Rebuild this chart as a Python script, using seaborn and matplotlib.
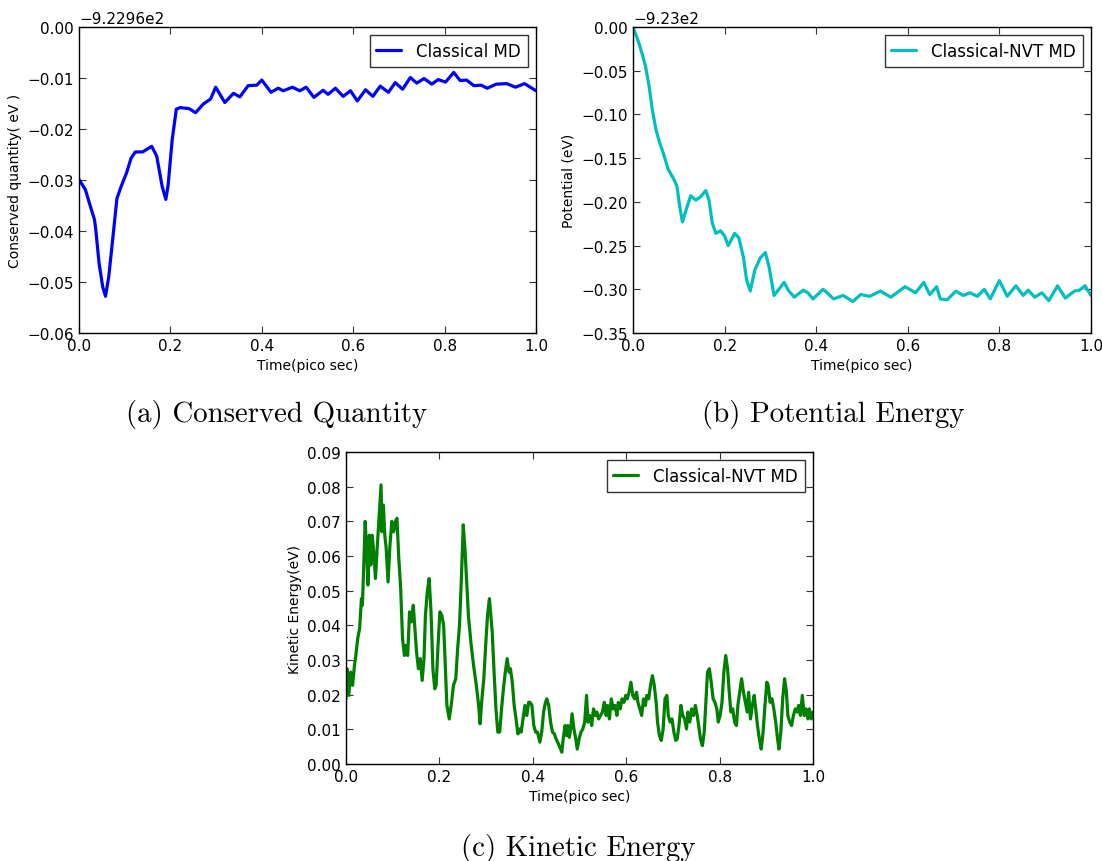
import numpy as np
import pandas as pd
import seaborn as sns
import matplotlib.pyplot as plt
from matplotlib.ticker import MultipleLocator, FormatStrFormatter

# offsets (eV) that the y values are measured from
cons_offset = -922.96
pot_offset = -923.0

# (a) conserved quantity, relative to cons_offset
t_cons = [0.000, 0.014, 0.026, 0.034, 0.037, 0.044, 0.052, 0.058, 0.065, 0.075,
          0.083, 0.092, 0.104, 0.114, 0.123, 0.139, 0.159, 0.170, 0.182, 0.190,
          0.195, 0.204, 0.213, 0.221, 0.241, 0.255, 0.272, 0.288, 0.299, 0.319,
          0.338, 0.352, 0.370, 0.389, 0.400, 0.420, 0.436, 0.447, 0.467, 0.483,
          0.497, 0.514, 0.534, 0.545, 0.561, 0.578, 0.594, 0.609, 0.627, 0.643,
          0.659, 0.677, 0.692, 0.708, 0.725, 0.739, 0.755, 0.772, 0.786, 0.802,
          0.820, 0.834, 0.848, 0.864, 0.880, 0.893, 0.913, 0.936, 0.955, 0.975,
          0.991, 1.000]
cons = [-0.0299, -0.0319, -0.0355, -0.0378, -0.0400, -0.0464, -0.0510, -0.0528, -0.0490, -0.0405,
        -0.0336, -0.0313, -0.0286, -0.0257, -0.0245, -0.0245, -0.0234, -0.0253, -0.0313, -0.0338,
        -0.0310, -0.0220, -0.0161, -0.0158, -0.0160, -0.0168, -0.0151, -0.0141, -0.0118, -0.0148,
        -0.0130, -0.0137, -0.0115, -0.0114, -0.0104, -0.0128, -0.0120, -0.0125, -0.0118, -0.0125,
        -0.0118, -0.0138, -0.0124, -0.0132, -0.0120, -0.0136, -0.0125, -0.0145, -0.0123, -0.0136,
        -0.0116, -0.0128, -0.0109, -0.0122, -0.0099, -0.0110, -0.0101, -0.0112, -0.0103, -0.0108,
        -0.0089, -0.0105, -0.0104, -0.0115, -0.0114, -0.0120, -0.0112, -0.0111, -0.0118, -0.0111,
        -0.0120, -0.0125]

# (b) potential energy, relative to pot_offset
t_pot = [0.000, 0.012, 0.019, 0.027, 0.035, 0.042, 0.050, 0.058, 0.066, 0.077,
         0.089, 0.096, 0.102, 0.108, 0.116, 0.126, 0.137, 0.148, 0.159, 0.166,
         0.173, 0.181, 0.191, 0.200, 0.208, 0.222, 0.231, 0.241, 0.248, 0.256,
         0.266, 0.278, 0.289, 0.297, 0.308, 0.320, 0.330, 0.339, 0.352, 0.372,
         0.382, 0.393, 0.415, 0.424, 0.438, 0.459, 0.480, 0.497, 0.517, 0.540,
         0.563, 0.594, 0.617, 0.635, 0.648, 0.663, 0.671, 0.686, 0.705, 0.721,
         0.736, 0.752, 0.767, 0.780, 0.800, 0.817, 0.836, 0.852, 0.863, 0.877,
         0.893, 0.908, 0.927, 0.944, 0.964, 0.975, 0.987, 1.000]
pot = [0.000, -0.017, -0.029, -0.044, -0.067, -0.094, -0.117, -0.132, -0.144, -0.163,
       -0.174, -0.182, -0.205, -0.223, -0.209, -0.193, -0.198, -0.194, -0.187, -0.198,
       -0.224, -0.236, -0.233, -0.239, -0.250, -0.236, -0.241, -0.263, -0.289, -0.302,
       -0.278, -0.264, -0.258, -0.274, -0.307, -0.299, -0.292, -0.301, -0.309, -0.301,
       -0.304, -0.311, -0.300, -0.304, -0.311, -0.307, -0.314, -0.306, -0.308, -0.302,
       -0.309, -0.297, -0.304, -0.292, -0.306, -0.297, -0.311, -0.312, -0.302, -0.307,
       -0.304, -0.308, -0.300, -0.311, -0.290, -0.308, -0.296, -0.307, -0.301, -0.309,
       -0.304, -0.313, -0.296, -0.310, -0.302, -0.301, -0.296, -0.307]

# (c) kinetic energy
t_ke = [0.000, 0.002, 0.006, 0.010, 0.014, 0.018, 0.021, 0.025, 0.029, 0.033,
        0.035, 0.038, 0.041, 0.044, 0.047, 0.050, 0.053, 0.056, 0.060, 0.063,
        0.067, 0.071, 0.075, 0.077, 0.080, 0.083, 0.086, 0.090, 0.094, 0.098,
        0.102, 0.106, 0.109, 0.113, 0.117, 0.121, 0.125, 0.128, 0.132, 0.136,
        0.140, 0.144, 0.148, 0.151, 0.155, 0.159, 0.163, 0.167, 0.170, 0.174,
        0.178, 0.182, 0.186, 0.190, 0.193, 0.197, 0.201, 0.205, 0.209, 0.213,
        0.216, 0.221, 0.226, 0.230, 0.235, 0.239, 0.243, 0.247, 0.251, 0.255,
        0.258, 0.262, 0.268, 0.274, 0.279, 0.284, 0.287, 0.291, 0.295, 0.299,
        0.303, 0.307, 0.310, 0.313, 0.317, 0.321, 0.325, 0.329, 0.333, 0.337,
        0.341, 0.345, 0.349, 0.352, 0.356, 0.360, 0.364, 0.368, 0.372, 0.375,
        0.379, 0.383, 0.387, 0.391, 0.394, 0.398, 0.402, 0.406, 0.410, 0.415,
        0.419, 0.423, 0.427, 0.430, 0.434, 0.438, 0.442, 0.446, 0.450, 0.453,
        0.458, 0.462, 0.465, 0.469, 0.472, 0.475, 0.478, 0.481, 0.484, 0.488,
        0.492, 0.495, 0.499, 0.503, 0.507, 0.511, 0.515, 0.518, 0.522, 0.526,
        0.530, 0.534, 0.537, 0.541, 0.545, 0.549, 0.553, 0.557, 0.560, 0.564,
        0.568, 0.572, 0.576, 0.580, 0.583, 0.587, 0.591, 0.595, 0.599, 0.602,
        0.606, 0.610, 0.614, 0.618, 0.622, 0.625, 0.629, 0.633, 0.637, 0.641,
        0.644, 0.648, 0.652, 0.656, 0.660, 0.664, 0.667, 0.671, 0.675, 0.679,
        0.683, 0.687, 0.690, 0.694, 0.698, 0.702, 0.706, 0.709, 0.713, 0.717,
        0.721, 0.725, 0.729, 0.732, 0.736, 0.740, 0.744, 0.748, 0.752, 0.755,
        0.759, 0.763, 0.767, 0.771, 0.774, 0.778, 0.782, 0.786, 0.790, 0.794,
        0.797, 0.801, 0.805, 0.809, 0.813, 0.817, 0.820, 0.824, 0.828, 0.832,
        0.836, 0.839, 0.843, 0.847, 0.851, 0.855, 0.859, 0.862, 0.866, 0.870,
        0.874, 0.878, 0.881, 0.885, 0.889, 0.893, 0.897, 0.901, 0.904, 0.908,
        0.912, 0.916, 0.920, 0.924, 0.927, 0.931, 0.935, 0.939, 0.943, 0.946,
        0.950, 0.954, 0.958, 0.962, 0.966, 0.969, 0.973, 0.977, 0.981, 0.985,
        0.989, 0.992, 0.996, 1.000]
ke = [0.0188, 0.0275, 0.0198, 0.0265, 0.0227, 0.0284, 0.0313, 0.0362, 0.0390, 0.0477,
      0.0458, 0.0574, 0.0700, 0.0622, 0.0516, 0.0660, 0.0574, 0.0660, 0.0600, 0.0535,
      0.0630, 0.0718, 0.0805, 0.0670, 0.0747, 0.0660, 0.0622, 0.0525, 0.0630, 0.0700,
      0.0670, 0.0700, 0.0709, 0.0593, 0.0506, 0.0362, 0.0313, 0.0342, 0.0313, 0.0439,
      0.0410, 0.0458, 0.0381, 0.0323, 0.0275, 0.0304, 0.0241, 0.0304, 0.0429, 0.0497,
      0.0535, 0.0439, 0.0275, 0.0217, 0.0227, 0.0342, 0.0439, 0.0429, 0.0400, 0.0265,
      0.0169, 0.0130, 0.0178, 0.0227, 0.0246, 0.0333, 0.0400, 0.0535, 0.0690, 0.0612,
      0.0535, 0.0429, 0.0342, 0.0275, 0.0227, 0.0169, 0.0116, 0.0188, 0.0246, 0.0342,
      0.0429, 0.0477, 0.0429, 0.0381, 0.0265, 0.0159, 0.0092, 0.0092, 0.0159, 0.0217,
      0.0265, 0.0304, 0.0265, 0.0275, 0.0236, 0.0169, 0.0130, 0.0087, 0.0101, 0.0092,
      0.0130, 0.0169, 0.0140, 0.0178, 0.0178, 0.0169, 0.0111, 0.0092, 0.0092, 0.0063,
      0.0092, 0.0150, 0.0178, 0.0188, 0.0169, 0.0121, 0.0092, 0.0087, 0.0072, 0.0063,
      0.0048, 0.0034, 0.0072, 0.0111, 0.0082, 0.0111, 0.0077, 0.0101, 0.0145, 0.0101,
      0.0072, 0.0043, 0.0072, 0.0092, 0.0101, 0.0121, 0.0198, 0.0121, 0.0140, 0.0111,
      0.0159, 0.0140, 0.0150, 0.0130, 0.0140, 0.0150, 0.0178, 0.0140, 0.0169, 0.0130,
      0.0188, 0.0159, 0.0169, 0.0140, 0.0178, 0.0159, 0.0188, 0.0178, 0.0198, 0.0188,
      0.0207, 0.0236, 0.0198, 0.0188, 0.0207, 0.0178, 0.0159, 0.0140, 0.0188, 0.0169,
      0.0198, 0.0188, 0.0227, 0.0255, 0.0227, 0.0178, 0.0121, 0.0082, 0.0068, 0.0101,
      0.0188, 0.0198, 0.0140, 0.0121, 0.0130, 0.0092, 0.0068, 0.0072, 0.0111, 0.0169,
      0.0140, 0.0130, 0.0101, 0.0150, 0.0121, 0.0159, 0.0140, 0.0169, 0.0140, 0.0111,
      0.0072, 0.0053, 0.0092, 0.0188, 0.0265, 0.0275, 0.0236, 0.0188, 0.0178, 0.0159,
      0.0121, 0.0140, 0.0178, 0.0265, 0.0313, 0.0275, 0.0217, 0.0150, 0.0159, 0.0121,
      0.0111, 0.0169, 0.0207, 0.0246, 0.0207, 0.0178, 0.0150, 0.0207, 0.0130, 0.0169,
      0.0198, 0.0150, 0.0111, 0.0072, 0.0043, 0.0092, 0.0169, 0.0236, 0.0227, 0.0178,
      0.0188, 0.0159, 0.0121, 0.0072, 0.0043, 0.0092, 0.0188, 0.0246, 0.0207, 0.0140,
      0.0121, 0.0111, 0.0140, 0.0159, 0.0150, 0.0169, 0.0140, 0.0198, 0.0140, 0.0159,
      0.0130, 0.0159, 0.0130, 0.0150]

df_cons = pd.DataFrame({'t': t_cons, 'E': np.array(cons) + cons_offset})
df_pot = pd.DataFrame({'t': t_pot, 'E': np.array(pot) + pot_offset})
df_ke = pd.DataFrame({'t': t_ke, 'E': ke})

sns.set_style("ticks", {"xtick.direction": "in", "ytick.direction": "in",
                        "axes.edgecolor": "black", "text.color": "black",
                        "axes.labelcolor": "black", "xtick.color": "black",
                        "ytick.color": "black"})
plt.rcParams['font.family'] = ['DejaVu Sans']

fig = plt.figure(figsize=(11.02, 8.62), dpi=100)
ax_a = fig.add_axes([0.0717, 0.6125, 0.4147, 0.355])
ax_b = fig.add_axes([0.5744, 0.6125, 0.4156, 0.355])
ax_c = fig.add_axes([0.3140, 0.1125, 0.4238, 0.362])

panels = [
    (ax_a, df_cons, 'b', 'Classical MD', 'Conserved quantity( eV )'),
    (ax_b, df_pot, 'c', 'Classical-NVT MD', 'Potential (eV)'),
    (ax_c, df_ke, 'g', 'Classical-NVT MD', 'Kinetic Energy(eV)'),
]
for ax, d, col, lab, ylab in panels:
    sns.lineplot(data=d, x='t', y='E', ax=ax, color=col, lw=2.3, label=lab,
                 estimator=None, sort=False, solid_joinstyle='round')
    ax.set_xlim(0, 1)
    ax.xaxis.set_major_locator(MultipleLocator(0.2))
    ax.xaxis.set_major_formatter(FormatStrFormatter('%.1f'))
    ax.set_xlabel('Time(pico sec)', fontsize=10)
    ax.set_ylabel(ylab, fontsize=10)
    ax.tick_params(which='major', direction='in', top=True, right=True,
                   length=5, width=0.8, labelsize=11, color='#333333',
                   labelcolor='black')
    for s in ax.spines.values():
        s.set_linewidth(1.0)
        s.set_color('black')
    leg = ax.legend(loc='upper right', fontsize=12, fancybox=False,
                    handlelength=1.5, handletextpad=0.9, borderpad=0.4)
    leg.get_frame().set_edgecolor('black')
    leg.get_frame().set_linewidth(1.0)

ax_a.set_ylim(cons_offset - 0.06, cons_offset)
ax_a.yaxis.set_major_locator(MultipleLocator(0.01))
ax_a.yaxis.get_major_formatter().set_useOffset(cons_offset)

ax_b.set_ylim(pot_offset - 0.35, pot_offset)
ax_b.yaxis.set_major_locator(MultipleLocator(0.05))
ax_b.yaxis.get_major_formatter().set_useOffset(pot_offset)

ax_c.set_ylim(0, 0.09)
ax_c.yaxis.set_major_locator(MultipleLocator(0.01))
ax_c.yaxis.set_major_formatter(FormatStrFormatter('%.2f'))

for ax in (ax_a, ax_b):
    ax.yaxis.get_offset_text().set_fontsize(11)

cap = dict(fontsize=20.8, family='cmr10', ha='center', va='center', color='black')
fig.text(0.2514, 0.5197, '(a) Conserved Quantity', **cap)
fig.text(0.756, 0.5197, '(b) Potential Energy', **cap)
fig.text(0.5245, 0.0162, '(c) Kinetic Energy', **cap)

fig.savefig('out.png', dpi=100)
